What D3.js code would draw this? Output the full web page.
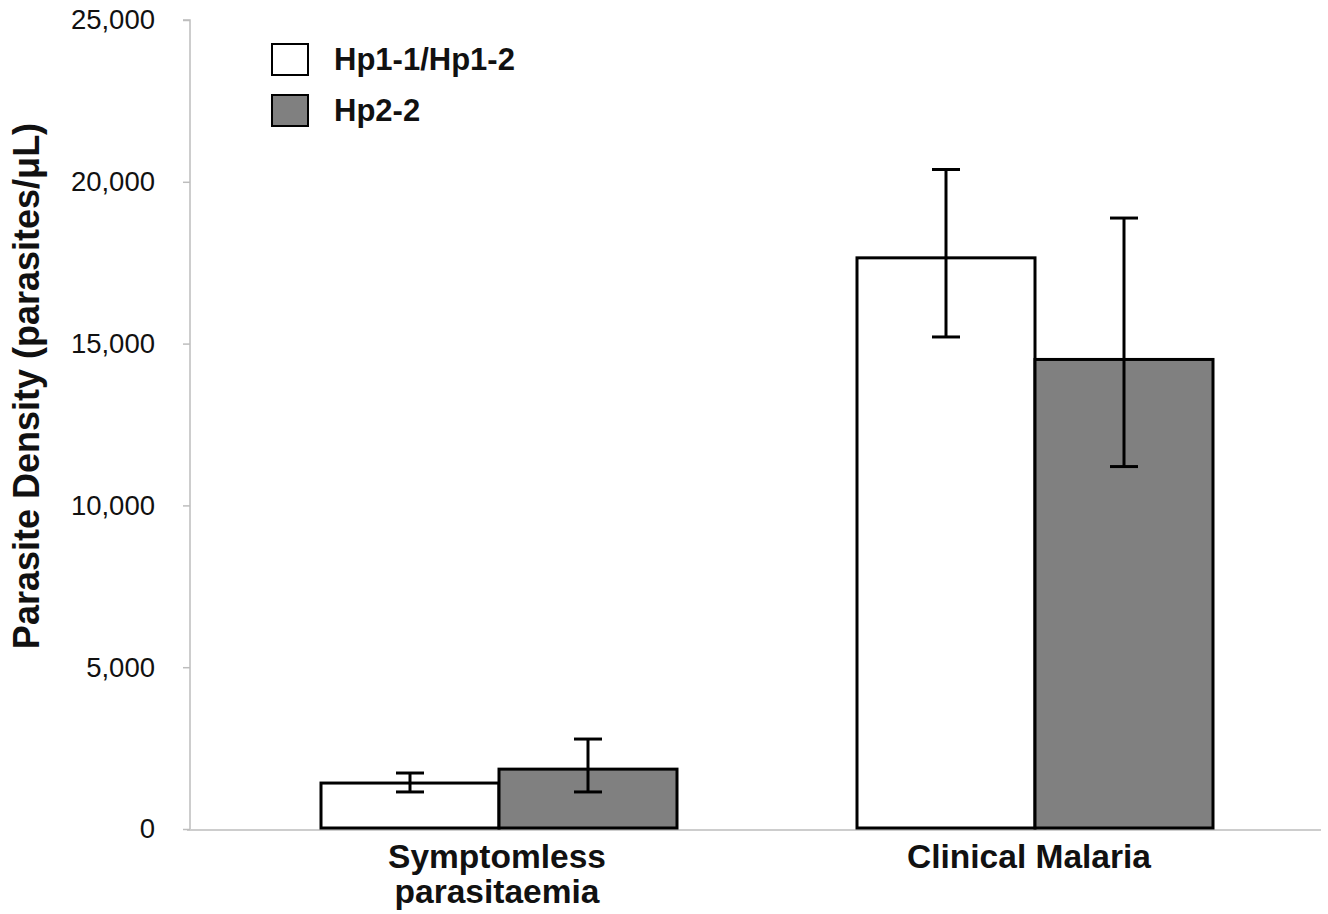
<!DOCTYPE html>
<html>
<head>
<meta charset="utf-8">
<script src="https://cdn.jsdelivr.net/npm/d3@7"></script>
<style>
  body { margin: 0; background: #fff; }
  text { font-family: "Liberation Sans", Arial, sans-serif; }
</style>
</head>
<body>
<div id="chart"></div>
<script>
const width = 1328, height = 914;

// data
const categories = ["Symptomless parasitaemia", "Clinical Malaria"];
const catLines = [["Symptomless", "parasitaemia"], ["Clinical Malaria"]];
const groups = ["Hp1-1/Hp1-2", "Hp2-2"];
const means = [[1420, 1850], [17650, 14510]];
const errLow = [[1145, 1145], [15205, 11200]];
const errHigh = [[1730, 2780], [20380, 18880]];
const yTicks = [0, 5000, 10000, 15000, 20000, 25000];
const colors = ["#ffffff", "#808080"];

let rows = [];
categories.forEach((c, i) => {
  groups.forEach((g, j) => {
    rows.push({cat: c, grp: g, val: means[i][j], lo: errLow[i][j], hi: errHigh[i][j]});
  });
});

let svg = d3.select("#chart")
  .append("svg")
  .attr("width", width)
  .attr("height", height);

let y = d3.scaleLinear()
  .domain([0, 25000])
  .range([829, 20]);

let x0 = d3.scaleBand()
  .domain(categories)
  .range([231, 1303]);

let x1 = d3.scaleBand()
  .domain(groups)
  .range([0, 356]);

let color = d3.scaleOrdinal().domain(groups).range(colors);

// y axis
let yAxis = svg.append("g")
  .attr("transform", "translate(190,0)")
  .call(d3.axisLeft(y).tickValues(yTicks).tickSize(7).tickPadding(28)
    .tickFormat(d3.format(",")));
yAxis.select(".domain").attr("stroke", "#bdbdbd").attr("stroke-width", 1.5)
  .attr("d", `M-7,${y(25000)}H0V${y(0)}`);
yAxis.selectAll(".tick line").attr("stroke", "#bdbdbd").attr("stroke-width", 1.5);
yAxis.selectAll(".tick text")
  .attr("fill", "#111")
  .style("font-size", "27.5px")
  .style("font-family", "'Liberation Sans', Arial, sans-serif");

// x axis line
svg.append("line")
  .attr("x1", 187).attr("x2", 1321)
  .attr("y1", y(0) + 1).attr("y2", y(0) + 1)
  .attr("stroke", "#bdbdbd").attr("stroke-width", 1.5);

// bars
let bars = svg.selectAll(".bar").data(rows);
bars.enter()
  .append("rect")
  .attr("class", "bar")
  .attr("x", d => x0(d.cat) + (x0.bandwidth() - 356) / 2 + x1(d.grp))
  .attr("y", d => y(d.val))
  .attr("width", x1.bandwidth())
  .attr("height", d => y(0) - y(d.val) - 1)
  .attr("fill", d => color(d.grp))
  .attr("stroke", "#000")
  .attr("stroke-width", 3);

// error bars
let ex = d => x0(d.cat) + (x0.bandwidth() - 356) / 2 + x1(d.grp) + x1.bandwidth() / 2;
let errs = svg.selectAll(".err").data(rows).enter().append("g").attr("class", "err")
  .attr("stroke", "#000").attr("stroke-width", 3);
errs.append("line")
  .attr("x1", ex).attr("x2", ex)
  .attr("y1", d => y(d.hi)).attr("y2", d => y(d.lo));
errs.append("line")
  .attr("x1", d => ex(d) - 14).attr("x2", d => ex(d) + 14)
  .attr("y1", d => y(d.hi)).attr("y2", d => y(d.hi));
errs.append("line")
  .attr("x1", d => ex(d) - 14).attr("x2", d => ex(d) + 14)
  .attr("y1", d => y(d.lo)).attr("y2", d => y(d.lo));

// category labels
categories.forEach((c, i) => {
  let cx = x0(c) + x0.bandwidth() / 2 - (i === 1 ? 6 : 2);
  let t = svg.append("text")
    .attr("x", cx)
    .attr("y", 868)
    .attr("text-anchor", "middle")
    .style("font-size", "33.5px")
    .style("font-weight", "bold")
    .attr("fill", "#111");
  catLines[i].forEach((ln, k) => {
    t.append("tspan")
      .attr("x", cx)
      .attr("dy", k === 0 ? 0 : 35)
      .text(ln);
  });
});

// y title
svg.append("text")
  .attr("transform", "translate(39, 386) rotate(-90)")
  .attr("text-anchor", "middle")
  .style("font-size", "36px")
  .style("font-weight", "bold")
  .attr("fill", "#111")
  .text("Parasite Density (parasites/\u03bcL)");

// legend
let legend = svg.selectAll(".legend").data(groups).enter()
  .append("g")
  .attr("class", "legend")
  .attr("transform", (d, i) => `translate(272, ${44 + i * 51})`);
legend.append("rect")
  .attr("width", 36).attr("height", 31)
  .attr("fill", d => color(d))
  .attr("stroke", "#000").attr("stroke-width", 2);
legend.append("text")
  .attr("x", 62).attr("y", 26)
  .style("font-size", "31px")
  .style("font-weight", "bold")
  .attr("fill", "#111")
  .text(d => d);
</script>
</body>
</html>
